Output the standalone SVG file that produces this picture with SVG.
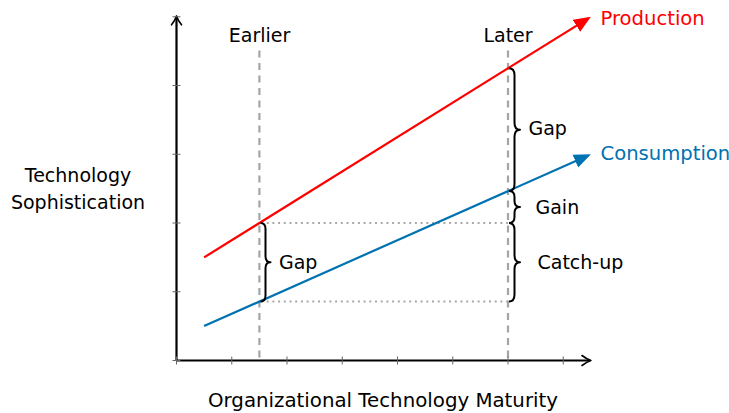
<svg xmlns="http://www.w3.org/2000/svg" width="729" height="413" viewBox="0 0 729 413">
  <style>
    text { font-family: "DejaVu Sans", "Liberation Sans", sans-serif; font-size: 19px; fill: #000; }
    .dash { stroke: #a2a6aa; stroke-width: 2.2; stroke-dasharray: 7 5.5; fill: none; }
    .dot { stroke: #a8a8a8; stroke-width: 2; stroke-dasharray: 2 3.7; fill: none; }
    .brace { stroke: #000; stroke-width: 2; fill: none; stroke-linejoin: round; }
    .axis { stroke: #000; stroke-width: 2.2; fill: none; }
    .tick { stroke: #666; stroke-width: 1; }
    .ahead { stroke: #000; stroke-width: 1.6; fill: none; stroke-linecap: round; stroke-linejoin: round; }
  </style>
  <defs>
    <marker id="arrRed" markerUnits="userSpaceOnUse" markerWidth="18" markerHeight="16" viewBox="0 0 18 16" refX="14" refY="8" orient="auto">
      <path d="M0,1 L17,8 L0,15 Z" fill="#ff0000"/>
    </marker>
    <marker id="arrBlue" markerUnits="userSpaceOnUse" markerWidth="18" markerHeight="16" viewBox="0 0 18 16" refX="14" refY="8" orient="auto">
      <path d="M0,1 L17,8 L0,15 Z" fill="#0072b2"/>
    </marker>
  </defs>

  <g id="guides">
    <line class="dash" x1="259.4" y1="50.5" x2="259.4" y2="360.5"/>
    <line class="dash" x1="508" y1="50.5" x2="508" y2="360.5"/>
    <line class="dot" x1="261" y1="223" x2="508" y2="223"/>
    <line class="dot" x1="261" y1="301.6" x2="508" y2="301.6"/>
  </g>

  <g id="axes">
    <line class="axis" x1="176.5" y1="360.5" x2="589.5" y2="360.5"/>
    <line class="axis" x1="176.5" y1="360.5" x2="176.5" y2="18"/>
    <path class="ahead" d="M582,355.5 Q587,359.3 590.9,360.5 Q587,361.7 582,365.5"/>
    <path class="ahead" d="M171.5,24.8 Q175.3,19.8 176.5,15.9 Q177.7,19.8 181.5,24.8"/>
    <g class="tick">
      <line x1="176.5" y1="356.5" x2="176.5" y2="364.5"/>
      <line x1="231.75" y1="356.5" x2="231.75" y2="364.5"/>
      <line x1="287" y1="356.5" x2="287" y2="364.5"/>
      <line x1="342.25" y1="356.5" x2="342.25" y2="364.5"/>
      <line x1="397.5" y1="356.5" x2="397.5" y2="364.5"/>
      <line x1="452.75" y1="356.5" x2="452.75" y2="364.5"/>
      <line x1="508" y1="356.5" x2="508" y2="364.5"/>
      <line x1="563.25" y1="356.5" x2="563.25" y2="364.5"/>
      <line x1="172.5" y1="360.5" x2="180.5" y2="360.5"/>
      <line x1="172.5" y1="291.75" x2="180.5" y2="291.75"/>
      <line x1="172.5" y1="223" x2="180.5" y2="223"/>
      <line x1="172.5" y1="154.25" x2="180.5" y2="154.25"/>
      <line x1="172.5" y1="85.5" x2="180.5" y2="85.5"/>
      <line x1="172.5" y1="16.75" x2="180.5" y2="16.75"/>
    </g>
  </g>

  <g id="connectors">
    <line id="production-line" x1="204.1" y1="257.4" x2="588.35" y2="18.33" stroke="#ff0000" stroke-width="2.2" marker-end="url(#arrRed)"/>
    <line id="consumption-line" x1="204.1" y1="326.1" x2="588.16" y2="155.47" stroke="#0072b2" stroke-width="2.2" marker-end="url(#arrBlue)"/>
  </g>

  <g id="brace-gap-earlier">
    <path class="brace" d="M260.5,223 Q265.5,223 265.5,229 L265.5,256.3 Q265.5,262.3 270.5,262.3 Q265.5,262.3 265.5,268.3 L265.5,295.6 Q265.5,301.6 260.5,301.6"/>
    <text x="279" y="269">Gap</text>
  </g>
  <g id="brace-gap-later">
    <path class="brace" d="M509,68.3 Q514.5,68.3 514.5,75.3 L514.5,122.7 Q514.5,129.7 520,129.7 Q514.5,129.7 514.5,136.7 L514.5,184.1 Q514.5,191.1 509,191.1"/>
    <text x="528.5" y="135">Gap</text>
  </g>
  <g id="brace-gain">
    <path class="brace" d="M509,191.1 Q514.5,191.1 514.5,197.1 L514.5,201.05 Q514.5,207.05 520,207.05 Q514.5,207.05 514.5,213.05 L514.5,217 Q514.5,223 509,223"/>
    <text x="535.5" y="214">Gain</text>
  </g>
  <g id="brace-catchup">
    <path class="brace" d="M509,223 Q514.5,223 514.5,230 L514.5,255.3 Q514.5,262.3 520,262.3 Q514.5,262.3 514.5,269.3 L514.5,294.6 Q514.5,301.6 509,301.6"/>
    <text x="537.5" y="269">Catch-up</text>
  </g>

  <g id="labels">
    <text x="259.5" y="42" text-anchor="middle">Earlier</text>
    <text x="508" y="42" text-anchor="middle">Later</text>
    <text x="600.5" y="25" style="fill:#ff0000;font-size:19.6px">Production</text>
    <text x="600.5" y="160" style="fill:#0072b2;font-size:19.6px">Consumption</text>
    <text x="78" y="182" text-anchor="middle">Technology</text>
    <text x="78" y="209" text-anchor="middle">Sophistication</text>
    <text x="383" y="407" text-anchor="middle" style="font-size:19.8px">Organizational Technology Maturity</text>
  </g>
</svg>
